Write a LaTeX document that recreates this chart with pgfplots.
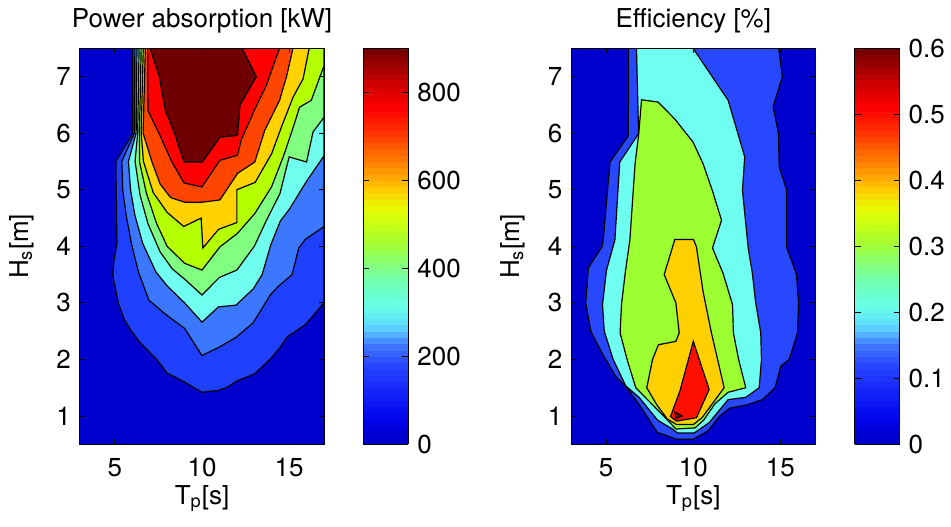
\documentclass[border=0pt]{standalone}
\usepackage{pgfplots}
\pgfplotsset{compat=1.18}
\usepackage{fontspec}
\setmainfont{TeX Gyre Heros}
% fill colours of the contour bands (power)
\definecolor{p0}{RGB}{0,0,205}
\definecolor{p1}{RGB}{32,64,255}
\definecolor{p2}{RGB}{60,120,255}
\definecolor{p3}{RGB}{112,255,238}
\definecolor{p4}{RGB}{128,255,128}
\definecolor{p5}{RGB}{180,255,0}
\definecolor{p6}{RGB}{255,210,0}
\definecolor{p7}{RGB}{255,70,0}
\definecolor{p8}{RGB}{255,0,0}
\definecolor{p9}{RGB}{112,0,0}
% fill colours (efficiency)
\definecolor{e0}{RGB}{0,0,205}
\definecolor{e1}{RGB}{40,72,255}
\definecolor{e2}{RGB}{110,255,240}
\definecolor{e3}{RGB}{155,255,50}
\definecolor{e4}{RGB}{255,208,0}
\definecolor{e5}{RGB}{255,15,0}
\definecolor{e6}{RGB}{140,0,0}
\pgfplotsset{
  /pgf/number format/assume math mode=true,
  every axis title shift=0pt,
  colormap={refjet}{
    rgb255=(0,0,195)
    rgb255=(0,0,228)
    rgb255=(10,20,245)
    rgb255=(25,45,252)
    rgb255=(40,70,255)
    rgb255=(65,120,255)
    rgb255=(95,220,255)
    rgb255=(105,255,230)
    rgb255=(110,255,190)
    rgb255=(130,255,130)
    rgb255=(160,255,60)
    rgb255=(195,255,20)
    rgb255=(235,250,0)
    rgb255=(255,195,0)
    rgb255=(255,140,0)
    rgb255=(255,90,0)
    rgb255=(255,40,0)
    rgb255=(255,0,0)
    rgb255=(215,0,0)
    rgb255=(165,0,0)
    rgb255=(110,0,0)
  },
  cont/.style={draw=black, line width=0.6pt},
  cbar/.style={
    scale only axis,
    at={(parent axis.north east)}, anchor=north west,
    width=22.5pt,
    samples=64,
    yticklabel pos=right, ytick pos=both,
    tick align=inside, major tick length=3pt,
    axis line style={line width=0.5pt},
    every tick/.style={black, line width=0.5pt},
    axis on top,
  },
  myaxis/.style={
    scale only axis, width=122pt, height=198pt,
    anchor=south west,
    xmin=3, xmax=17, ymin=0.5, ymax=7.5,
    xtick={5,10,15}, ytick={1,2,3,4,5,6,7},
    tick align=inside, major tick length=2.5pt,
    axis line style={line width=0.5pt},
    every tick/.style={black, line width=0.5pt},
    axis on top,
    xticklabel style={anchor=base, yshift=-16.2pt},
    title style={at={(axis description cs:0.5,1)}, anchor=base, yshift=10.5pt},
    xlabel style={at={(axis description cs:0.5,0)}, anchor=base, yshift=-29.85pt},
    ylabel style={at={(axis description cs:-0.24,0.5)}, anchor=center},
    xlabel={T\textsubscript{p}[s]},
    ylabel={H\textsubscript{s}[m]},
    colormap name=refjet,
    colorbar sampled,
    colorbar shift/.style={xshift=19.65pt},
  },
}
\begin{document}%
\fontsize{13}{15}\selectfont%
\begin{tikzpicture}
\useasboundingbox (0,0) rectangle (475.5pt,263pt);
% ---------------- Power absorption ----------------
\begin{axis}[myaxis, at={(40pt,40.85pt)},
  title={Power absorption [kW]},
  axis background/.style={fill=p0},
  point meta min=0, point meta max=900,
  colorbar style={cbar, ytick={0,200,400,600,800}},
]
\addplot[cont, fill=p1] coordinates {(6.03,7.5) (6.03,6.0) (5.06,5.5) (5.1,4.5) (5.12,4.05) (4.95,3.75) (4.88,3.5) (5.2,3.0) (5.55,2.7) (5.95,2.5) (6.45,2.3) (7.4,2.0) (8.0,1.76) (9.0,1.6) (10.0,1.42) (10.9,1.45) (11.4,1.5) (12.0,1.62) (13.0,1.74) (13.9,2.0) (14.45,2.2) (14.9,2.4) (15.95,2.62) (17,3.0) (17,7.5)} -- cycle;
\addplot[cont, fill=p2] coordinates {(6.15,7.5) (6.12,6.0) (5.4,5.5) (5.45,5.0) (5.65,4.55) (5.95,4.05) (6.35,3.55) (6.95,3.05) (7.9,2.8) (9.0,2.55) (10.0,2.07) (11.0,2.22) (11.95,2.39) (12.94,2.65) (13.94,3.15) (14.41,3.3) (15.17,3.5) (15.55,3.97) (15.92,4.12) (17,4.35) (17,7.5)} -- cycle;
\addplot[cont, fill=p3] coordinates {(6.27,7.5) (6.22,6.0) (5.78,5.5) (5.9,5.0) (6.15,4.55) (6.6,4.05) (7.35,3.55) (8.0,3.3) (9.0,3.0) (10.0,2.66) (10.95,2.93) (11.95,2.96) (12.95,3.25) (13.45,3.5) (13.95,4.03) (14.5,4.45) (15.0,4.65) (16.0,5.15) (17,5.6) (17,7.5)} -- cycle;
\addplot[cont, fill=p4] coordinates {(6.39,7.5) (6.31,6.0) (6.16,5.5) (6.45,4.9) (6.9,4.4) (7.6,3.9) (8.3,3.6) (9.0,3.42) (10.0,3.14) (11.0,3.45) (12.0,3.58) (13.0,4.0) (13.7,4.46) (14.47,4.93) (15.0,5.58) (16.0,5.49) (16.37,6.02) (17,6.28) (17,7.5)} -- cycle;
\addplot[cont, fill=p5] coordinates {(6.51,7.5) (6.41,6.0) (6.41,5.5) (6.8,4.95) (7.4,4.4) (8.0,4.0) (9.0,3.7) (10.0,3.58) (11.03,3.99) (12.04,4.23) (13.03,4.58) (13.99,5.05) (14.66,5.58) (15.23,6.1) (15.6,6.46) (16.27,6.58) (17,7.19) (17,7.5)} -- cycle;
\addplot[cont, fill=p6] coordinates {(6.63,7.5) (6.51,6.0) (6.64,5.5) (7.2,4.95) (8.0,4.6) (8.95,4.35) (9.95,4.5) (10.05,3.97) (10.95,4.3) (12.0,4.42) (12.0,5.0) (13.05,5.13) (14.0,5.64) (14.56,6.11) (15.23,6.64) (15.8,6.96) (16.15,7.5)} -- cycle;
\addplot[cont, fill=p7] coordinates {(6.75,7.5) (6.62,6.0) (7.12,5.5) (7.6,5.1) (8.2,4.86) (9.0,4.78) (10.0,4.78) (11.03,4.82) (12.04,5.29) (13.03,5.49) (13.6,6.05) (14.45,6.58) (14.85,7.0) (15.22,7.5)} -- cycle;
\addplot[cont, fill=p8] coordinates {(6.88,7.5) (6.9,6.4) (7.6,5.95) (8.26,5.5) (8.97,5.12) (10.0,5.05) (11.03,5.52) (12.04,5.61) (12.25,5.88) (13.0,6.4) (13.7,6.85) (14.45,7.5)} -- cycle;
\addplot[cont, fill=p9] coordinates {(7.02,7.5) (7.55,7.0) (7.9,6.4) (8.4,6.02) (8.97,5.49) (10.02,5.49) (11.03,5.93) (12.04,5.96) (12.18,6.5) (13.12,7.0) (12.3,7.5)} -- cycle;
\end{axis}
% ---------------- Efficiency ----------------
\begin{axis}[myaxis, at={(285.65pt,40.85pt)},
  title={Efficiency [\%]},
  axis background/.style={fill=e0},
  point meta min=0, point meta max=0.6,
  colorbar style={cbar,
    ytick={0,0.1,0.2,0.3,0.4,0.5,0.6},
    yticklabels={0,0.1,0.2,0.3,0.4,0.5,0.6}},
]
\addplot[cont, fill=e1] coordinates {(6.29,7.5) (6.27,5.95) (5.22,5.49) (4.83,4.11) (4.78,4.0) (3.98,3.62) (3.83,3.0) (4.12,2.5) (4.79,2.1) (5.55,1.7) (6.19,1.5) (6.99,1.16) (7.94,0.71) (9.03,0.59) (10.0,0.59) (10.85,0.74) (11.52,1.0) (12.09,1.14) (13.01,1.19) (13.97,1.29) (14.69,1.5) (15.02,1.88) (15.5,2.0) (15.98,2.47) (16.04,3.0) (15.92,3.5) (15.35,3.99) (15.35,5.0) (14.93,5.4) (14.88,6.0) (14.58,6.47) (15.11,7.0) (14.9,7.5)} -- cycle;
\addplot[cont, fill=e2] coordinates {(6.74,7.5) (6.86,5.99) (5.78,5.49) (5.5,4.11) (5.02,3.58) (4.79,2.97) (4.89,2.5) (5.4,2.0) (6.13,1.53) (6.89,1.33) (7.94,0.93) (8.8,0.77) (9.1,0.7) (10.05,0.7) (10.9,0.88) (12.0,1.29) (13.01,1.33) (13.78,1.5) (13.91,2.0) (13.87,2.47) (13.58,3.0) (13.39,3.52) (13.15,3.97) (12.82,4.99) (12.95,5.58) (12.0,6.58) (9.99,7.5)} -- cycle;
\addplot[cont, fill=e3] coordinates {(7.03,6.59) (7.98,6.55) (8.94,6.25) (9.99,5.84) (10.56,5.46) (11.1,4.98) (11.62,4.46) (11.1,3.97) (11.71,3.52) (12.25,2.97) (12.3,2.47) (12.6,2.0) (13.01,1.5) (12.0,1.42) (11.25,1.22) (10.6,0.93) (10.1,0.79) (9.0,0.77) (8.3,1.0) (6.7,1.5) (6.2,2.0) (5.8,2.47) (5.88,2.97) (6.09,3.52) (6.36,4.11) (6.66,5.46) (6.87,5.99)} -- cycle;
\addplot[cont, fill=e4] coordinates {(8.94,4.12) (10.01,4.12) (10.18,3.99) (10.56,3.2) (11.04,2.47) (11.77,1.5) (10.5,0.97) (10.0,0.85) (9.03,0.85) (8.5,0.95) (7.9,1.2) (7.33,1.5) (7.66,2.0) (8.0,2.26) (9.0,2.32) (9.19,2.47) (9.0,3.0) (8.33,3.5)} -- cycle;
\addplot[cont, fill=e5] coordinates {(10.0,2.32) (10.91,1.47) (10.18,0.97) (9.03,0.91) (8.69,0.99) (9.23,1.44)} -- cycle;
\addplot[cont, fill=e6] coordinates {(8.95,1.07) (9.35,1.0) (9.0,0.96)} -- cycle;
\end{axis}
\end{tikzpicture}%
\end{document}
